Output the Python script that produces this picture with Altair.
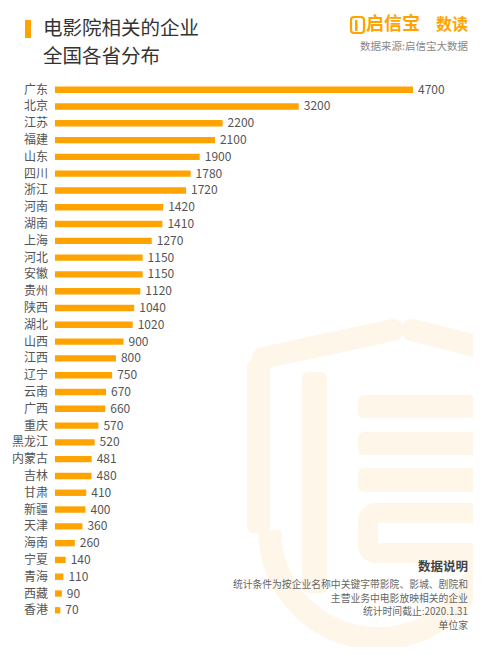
import math
import altair as alt
import pandas as pd

provinces = ["广东", "北京", "江苏", "福建", "山东", "四川", "浙江", "河南", "湖南", "上海",
             "河北", "安徽", "贵州", "陕西", "湖北", "山西", "江西", "辽宁", "云南", "广西",
             "重庆", "黑龙江", "内蒙古", "吉林", "甘肃", "新疆", "天津", "海南", "宁夏", "青海",
             "西藏", "香港"]
counts = [4700, 3200, 2200, 2100, 1900, 1780, 1720, 1420, 1410, 1270,
          1150, 1150, 1120, 1040, 1020, 900, 800, 750, 670, 660,
          570, 520, 481, 480, 410, 400, 360, 260, 140, 110,
          90, 70]

title_lines = ["电影院相关的企业", "全国各省分布"]
brand = "启信宝"
brand2 = "数读"
source = "数据来源:启信宝大数据"
note_title = "数据说明"
note_lines = ["统计条件为按企业名称中关键字带影院、影城、剧院和",
              "主营业务中电影放映相关的企业",
              "统计时间截止:2020.1.31",
              "单位家"]

FONT = "Noto Sans CJK SC"
ORANGE = "#FFA300"
WM = "#FFF6EA"

df = pd.DataFrame({"province": provinces, "count": counts})
one = pd.DataFrame({"k": [0]})

xs = alt.Scale(domain=[0, 4700], range=[47, 405], nice=False, zero=True)
ys = alt.Scale(domain=provinces, range=[73.3, 610.7], paddingInner=0.62, paddingOuter=0.31)

# ---- faint watermark (decorative) ----
wm_layers = []
for (x1, x2, y1, y2) in [(350, 473, 387, 410), (350, 473, 424, 447), (350, 473, 460, 484),
                         (239, 262, 352, 525), (294, 319, 364, 585)]:
    wm_layers.append(alt.Chart(one).mark_rect(color=WM, cornerRadius=6).encode(
        x=alt.value(x1), x2=alt.value(x2), y=alt.value(y1), y2=alt.value(y2)))
wm_layers.append(alt.Chart(one).mark_rect(fill=None, stroke=WM, strokeWidth=20, cornerRadius=8).encode(
    x=alt.value(360), x2=alt.value(480), y=alt.value(505), y2=alt.value(545)))
wm_layers.append(alt.Chart(one).mark_rule(color=WM, strokeWidth=22, strokeCap="round").encode(
    x=alt.value(255), x2=alt.value(385), y=alt.value(350), y2=alt.value(322)))
wm_layers.append(alt.Chart(one).mark_rule(color=WM, strokeWidth=22, strokeCap="round").encode(
    x=alt.value(404), x2=alt.value(475), y=alt.value(322), y2=alt.value(340)))
wm_layers.append(alt.Chart(one).mark_arc(color=WM, theta=math.pi / 2, theta2=3 * math.pi / 2,
                                         radius=120, radius2=97).encode(
    x=alt.value(370), y=alt.value(522)))
wm_layers.append(alt.Chart(one).mark_rect(color=WM).encode(
    x=alt.value(250), x2=alt.value(262), y=alt.value(500), y2=alt.value(525)))

# ---- bars ----
bars = alt.Chart(df).mark_bar(color=ORANGE).encode(
    x=alt.X("count:Q", scale=xs, axis=None),
    y=alt.Y("province:N", scale=ys, axis=None, sort=provinces),
)
values = alt.Chart(df).mark_text(align="left", baseline="middle", dx=5, font=FONT,
                                 fontSize=12, color="#555555").encode(
    x=alt.X("count:Q", scale=xs, axis=None),
    y=alt.Y("province:N", scale=ys, axis=None, sort=provinces),
    text="count:Q",
)
labels = alt.Chart(df).mark_text(align="right", baseline="middle", font=FONT,
                                 fontSize=12, color="#555555").encode(
    x=alt.value(40),
    y=alt.Y("province:N", scale=ys, axis=None, sort=provinces),
    text="province:N",
)

# ---- header ----
title_bar = alt.Chart(one).mark_rect(color=ORANGE).encode(
    x=alt.value(17), x2=alt.value(23), y=alt.value(12), y2=alt.value(30))
t1 = alt.Chart(pd.DataFrame({"t": [title_lines[0]]})).mark_text(
    align="left", baseline="middle", font=FONT, fontSize=19.5, color="#333333").encode(
    x=alt.value(35), y=alt.value(21), text="t:N")
t2 = alt.Chart(pd.DataFrame({"t": [title_lines[1]]})).mark_text(
    align="left", baseline="middle", font=FONT, fontSize=19.5, color="#333333").encode(
    x=alt.value(35), y=alt.value(48.5), text="t:N")

icon = alt.Chart(one).mark_rect(fill=None, stroke=ORANGE, strokeWidth=2.2, cornerRadius=3).encode(
    x=alt.value(343), x2=alt.value(356), y=alt.value(9), y2=alt.value(25))
icon2 = alt.Chart(one).mark_rect(color=ORANGE).encode(
    x=alt.value(347), x2=alt.value(349.5), y=alt.value(12), y2=alt.value(23))
b1 = alt.Chart(pd.DataFrame({"t": [brand]})).mark_text(
    align="left", baseline="middle", font=FONT, fontSize=18, fontWeight="bold", color=ORANGE).encode(
    x=alt.value(358), y=alt.value(17), text="t:N")
b2 = alt.Chart(pd.DataFrame({"t": [brand2]})).mark_text(
    align="right", baseline="middle", font=FONT, fontSize=16, fontWeight="bold", color=ORANGE).encode(
    x=alt.value(460), y=alt.value(17), text="t:N")
src = alt.Chart(pd.DataFrame({"t": [source]})).mark_text(
    align="right", baseline="middle", font=FONT, fontSize=10.5, color="#888888").encode(
    x=alt.value(460), y=alt.value(39), text="t:N")

# ---- notes ----
nt = alt.Chart(pd.DataFrame({"t": [note_title]})).mark_text(
    align="right", baseline="middle", font=FONT, fontSize=12.5, fontWeight="bold", color="#444444").encode(
    x=alt.value(460), y=alt.value(559), text="t:N")
note_layers = []
for txt, yy in zip(note_lines, [577, 591, 604, 618]):
    note_layers.append(alt.Chart(pd.DataFrame({"t": [txt]})).mark_text(
        align="right", baseline="middle", font=FONT, fontSize=9.8, color="#666666").encode(
        x=alt.value(460), y=alt.value(yy), text="t:N"))

chart = alt.layer(*wm_layers, bars, values, labels, title_bar, t1, t2, icon, icon2, b1, b2, src,
                  nt, *note_layers).properties(
    width=465, height=639, autosize=alt.AutoSizeParams(type="none"), padding=0,
    background="white",
).configure_view(stroke=None)

chart.save("out.html", embed_options={"renderer": "svg", "actions": False})
